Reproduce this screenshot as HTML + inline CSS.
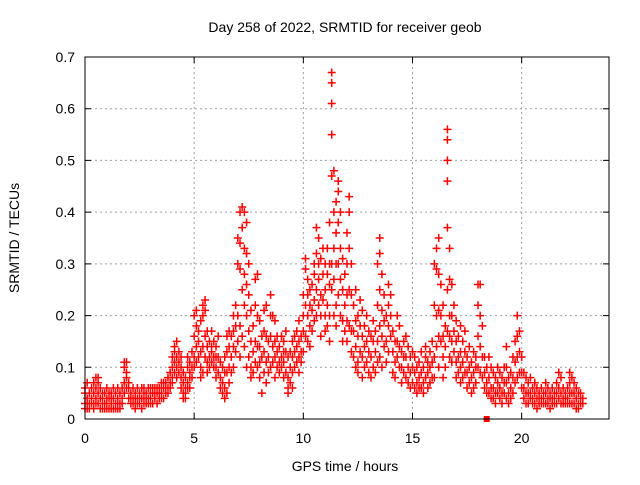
<!DOCTYPE html>
<html><head><meta charset="utf-8"><style>
body{margin:0;background:#fff;}
svg text{font-family:"Liberation Sans",sans-serif;font-size:14px;fill:#000;}
</style></head><body>
<svg id="chart" width="640" height="480" xmlns="http://www.w3.org/2000/svg">
<text x="345" y="32" text-anchor="middle">Day 258 of 2022, SRMTID for receiver geob</text>
<text transform="translate(19,238) rotate(-90)" text-anchor="middle">SRMTID / TECUs</text>
<text x="345" y="471" text-anchor="middle">GPS time / hours</text>
<g id="grid"></g><g id="marks"></g><g id="axes"></g>
</svg>
<script>
const xTicks=[0,5,10,15,20];
const yTicks=[0,0.1,0.2,0.3,0.4,0.5,0.6,0.7];
const xTickLabels=["0","5","10","15","20"];
const yTickLabels=["0","0.1","0.2","0.3","0.4","0.5","0.6","0.7"];
const zeroMarkerHours=[18.4];
const srmtidRows=[
[0.0,.06,.03,.02,.05],[0.1,.04,.02,.07,.03],[0.2,.03,.05,.02],[0.3,.04,.03,.06],[0.4,.05,.07,.03,.02],
[0.5,.06,.08,.04,.03],[0.6,.07,.05,.03,.08],[0.7,.04,.06,.02],[0.8,.03,.05,.02,.04],[0.9,.03,.02,.05],
[1.0,.04,.03,.06,.02],[1.1,.02,.04,.05],[1.2,.03,.05,.02,.04],[1.3,.04,.02,.06],[1.4,.03,.05,.02],
[1.5,.02,.04,.06,.03],[1.6,.05,.03,.02],[1.7,.04,.06,.03],[1.8,.07,.1,.11,.05],[1.9,.08,.11,.06,.09],
[2.0,.06,.04,.07],[2.1,.03,.05,.04],[2.2,.04,.06,.03],[2.3,.05,.03,.04,.02],[2.4,.04,.06,.03],
[2.5,.05,.03,.04],[2.6,.04,.06,.02],[2.7,.03,.05,.06,.04],[2.8,.05,.04,.03],[2.9,.06,.04,.03],
[3.0,.04,.05,.03,.06],[3.1,.05,.03,.06],[3.2,.04,.06,.05],[3.3,.05,.03,.06],[3.4,.06,.04,.05],
[3.5,.05,.07,.04,.06],[3.6,.06,.04,.07],[3.7,.05,.07,.06],[3.8,.08,.06,.05],[3.9,.07,.09,.06],
[4.0,.1,.08,.12,.07],[4.1,.11,.14,.09,.13],[4.2,.15,.12,.1,.08],[4.3,.11,.09,.13],[4.4,.08,.1,.06,.12],
[4.5,.07,.05,.09,.04],[4.6,.06,.04,.08,.05],[4.7,.07,.1,.06,.12],[4.8,.09,.06,.11,.08],[4.9,.1,.13,.08],
[5.0,.12,.16,.2,.1],[5.1,.14,.18,.21,.11],[5.2,.12,.15,.17],[5.3,.1,.13,.19,.08],[5.4,.2,.22,.14,.09],
[5.5,.23,.21,.16,.12],[5.6,.14,.11,.17,.09],[5.7,.12,.15,.1],[5.8,.13,.17,.11,.14],[5.9,.15,.12,.1],
[6.0,.14,.1,.12,.08],[6.1,.09,.12,.16],[6.2,.08,.11,.06],[6.3,.07,.05,.1],[6.4,.04,.06,.09,.12],
[6.5,.05,.09,.13,.16],[6.6,.1,.14,.17,.07],[6.7,.12,.16,.09],[6.8,.2,.14,.1,.17],[6.9,.22,.13,.18],
[7.0,.35,.3,.15,.2],[7.1,.4,.34,.29,.12,.18],[7.2,.41,.37,.25,.16],[7.3,.4,.33,.28,.22,.14],[7.4,.38,.32,.26,.2,.1],
[7.5,.3,.24,.17,.12],[7.6,.21,.15,.1,.08],[7.7,.18,.13,.09],[7.8,.27,.22,.15,.11],[7.9,.28,.2,.14,.1],
[8.0,.19,.14,.08,.11],[8.1,.16,.12,.05],[8.2,.13,.09,.17,.21],[8.3,.22,.16,.11,.07],[8.4,.15,.12,.09],
[8.5,.24,.2,.16,.1],[8.6,.2,.14,.11],[8.7,.19,.15,.12,.08],[8.8,.16,.13,.1],[8.9,.14,.11,.09],
[9.0,.16,.12,.1],[9.1,.15,.11,.08,.13],[9.2,.17,.13,.09],[9.3,.12,.06,.08,.05],[9.4,.1,.07,.13],
[9.5,.12,.09,.15,.06],[9.6,.13,.1,.16],[9.7,.14,.11,.17],[9.8,.12,.09,.15,.19],[9.9,.16,.13,.11],
[10.0,.2,.17,.13,.24],[10.1,.29,.31,.22,.16],[10.2,.2,.24,.15,.27],[10.3,.18,.22,.25,.14],[10.4,.21,.26,.17],
[10.5,.23,.28,.19,.3],[10.6,.25,.32,.37,.2],[10.7,.27,.35,.22,.3],[10.8,.24,.31,.2,.16],[10.9,.28,.33,.23],
[11.0,.3,.25,.2,.17],[11.1,.33,.28,.22,.18],[11.2,.38,.3,.26,.15,.2],[11.3,.67,.65,.61,.55,.47,.3,.25],[11.4,.48,.4,.33,.27,.2],
[11.5,.42,.36,.3,.22,.18],[11.6,.46,.44,.38,.3,.24],[11.7,.4,.33,.27,.2],[11.8,.31,.25,.19,.15],[11.9,.28,.22,.17],
[12.0,.36,.3,.24,.19,.15],[12.1,.43,.4,.33,.25,.18],[12.2,.3,.24,.17,.13],[12.3,.22,.17,.12],[12.4,.25,.19,.14,.1],
[12.5,.2,.16,.11,.09],[12.6,.23,.18,.13],[12.7,.21,.16,.12,.08],[12.8,.18,.14,.1],[12.9,.2,.15,.11],
[13.0,.17,.13,.09],[13.1,.16,.12,.08],[13.2,.19,.15,.1],[13.3,.17,.13,.09],[13.4,.3,.22,.15,.11],
[13.5,.35,.32,.25,.18,.12],[13.6,.28,.21,.16,.1],[13.7,.24,.19,.14],[13.8,.2,.15,.11],[13.9,.26,.22,.18,.13],
[14.0,.24,.2,.16],[14.1,.17,.13,.09],[14.2,.15,.11,.08],[14.3,.2,.15,.12],[14.4,.18,.14,.1],
[14.5,.13,.1,.07],[14.6,.15,.12,.09],[14.7,.16,.12,.08],[14.8,.14,.1,.07],[14.9,.12,.09,.06],
[15.0,.1,.07,.13],[15.1,.09,.06,.12],[15.2,.07,.05,.1],[15.3,.11,.08,.06],[15.4,.09,.06,.13],
[15.5,.1,.07,.05],[15.6,.12,.08,.14],[15.7,.09,.06,.11],[15.8,.13,.1,.07],[15.9,.15,.11,.08],
[16.0,.3,.22,.12,.08],[16.1,.33,.29,.2,.14],[16.2,.35,.28,.21,.16,.1],[16.3,.26,.2,.15],[16.4,.22,.16,.12,.08],
[16.5,.18,.14,.1],[16.6,.56,.54,.5,.46,.37,.25,.17],[16.7,.33,.27,.2,.16,.12],[16.8,.26,.2,.15,.11],[16.9,.22,.17,.13],
[17.0,.19,.15,.11,.08],[17.1,.16,.12,.09],[17.2,.18,.13,.1,.07],[17.3,.15,.11,.08],[17.4,.17,.13,.09],
[17.5,.12,.09,.06],[17.6,.14,.1,.07],[17.7,.11,.08,.05],[17.8,.13,.09,.06],[17.9,.1,.07,.12],
[18.0,.26,.22,.16,.1],[18.1,.26,.2,.14,.09],[18.2,.18,.12,.08],[18.3,.12,.09,.06],[18.4,.1,.07,.05],
[18.5,.12,.08,.05],[18.6,.1,.06,.04],[18.7,.09,.06,.04],[18.8,.08,.05,.03],[18.9,.1,.07,.05],
[19.0,.09,.06,.04],[19.1,.08,.05,.03],[19.2,.1,.07,.05],[19.3,.14,.1,.07,.04],[19.4,.08,.05,.03],
[19.5,.09,.06,.04],[19.6,.12,.08,.05],[19.7,.15,.11,.07],[19.8,.2,.16,.12,.08],[19.9,.17,.13,.09],
[20.0,.12,.09,.06],[20.1,.09,.06,.04],[20.2,.08,.05,.03],[20.3,.07,.05,.03],[20.4,.08,.05,.04],
[20.5,.06,.04,.03],[20.6,.07,.05,.03],[20.7,.06,.04,.02],[20.8,.05,.04,.03],[20.9,.06,.04,.03],
[21.0,.05,.04,.03],[21.1,.07,.05,.03],[21.2,.06,.04,.03],[21.3,.05,.04,.02],[21.4,.06,.04,.03],
[21.5,.05,.04,.03],[21.6,.07,.05,.03],[21.7,.09,.06,.04],[21.8,.08,.05,.03],[21.9,.06,.04,.03],
[22.0,.05,.04,.03],[22.1,.06,.04,.03],[22.2,.09,.07,.05,.03],[22.3,.08,.05,.03],[22.4,.07,.05,.03],
[22.5,.06,.04,.02],[22.6,.05,.03,.02],[22.7,.05,.04,.03],[22.8,.04,.03]
];
const L=85,R=609,T=57,B=419,XMAX=24,YMAX=0.7;
function xs(h){return L+(R-L)*h/XMAX;}
function ys(v){return B-(B-T)*v/YMAX;}
const NS="http://www.w3.org/2000/svg";
function mk(tag,attrs,parent){const e=document.createElementNS(NS,tag);for(const k in attrs)e.setAttribute(k,attrs[k]);parent.appendChild(e);return e;}
const grid=document.getElementById('grid'),marks=document.getElementById('marks'),axes=document.getElementById('axes');
xTicks.forEach((t,i)=>{
  const x=xs(t);
  if(t>0){const g=mk('line',{x1:x,x2:x,y1:T,y2:B,stroke:'#a0a0a0','stroke-dasharray':'2,3'},grid);
  
  }
  const tk=mk('path',{d:`M${x},${B}v-6M${x},${T}v6`,stroke:'#000'},axes);
  
  
  const tx=mk('text',{x:x,y:B+24,'text-anchor':'middle'},axes);tx.textContent=xTickLabels[i];
  
  
});
yTicks.forEach((t,i)=>{
  const y=ys(t);
  if(t>0&&t<YMAX){const g=mk('line',{x1:L,x2:R,y1:y,y2:y,stroke:'#a0a0a0','stroke-dasharray':'2,3'},grid);
  
  }
  const tk=mk('path',{d:`M${L},${y}h6M${R},${y}h-6`,stroke:'#000'},axes);
  
  
  const tx=mk('text',{x:L-10,y:y+5,'text-anchor':'end'},axes);tx.textContent=yTickLabels[i];
  
  
});
const frame=mk('rect',{x:L,y:T,width:R-L,height:B-T,fill:'none',stroke:'#000'},axes);


let d='';
srmtidRows.forEach(r=>{const x=xs(r[0]);for(let j=1;j<r.length;j++){const y=ys(r[j]);d+=`M${x-4},${y}h8M${x},${y-4}v8`;}});
const pts=mk('path',{d:d,stroke:'#ff0000','stroke-width':1.5,fill:'none'},marks);


zeroMarkerHours.forEach(h=>{const s=mk('rect',{x:xs(h)-3,y:ys(0)-3,width:6,height:6,fill:'#ff0000'},marks);

});
</script>
</body></html>
